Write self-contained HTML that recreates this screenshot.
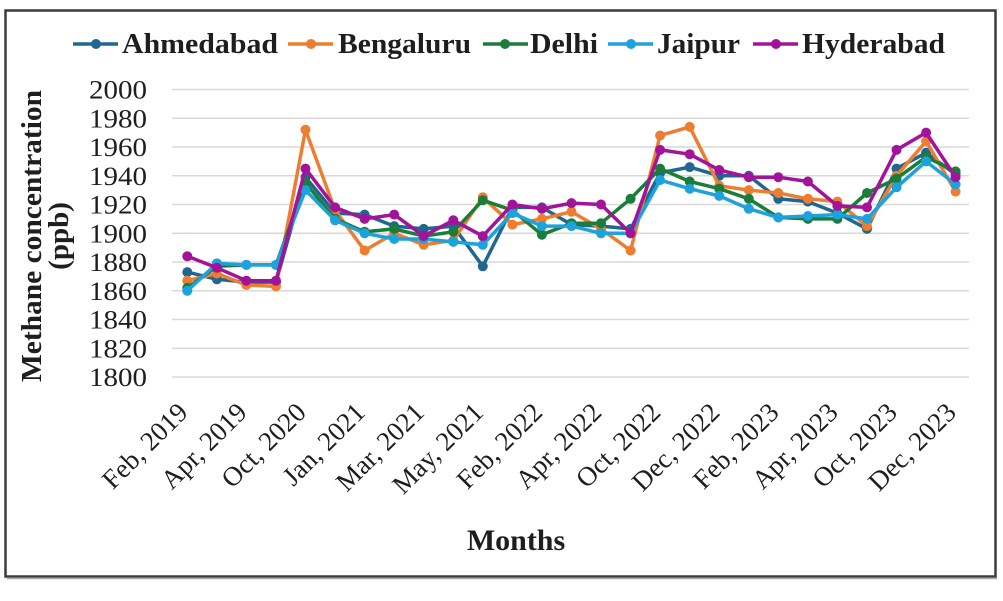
<!DOCTYPE html>
<html>
<head>
<meta charset="utf-8">
<style>
  html,body{margin:0;padding:0;background:#fff;}
  svg{display:block;}
  text{font-family:"Liberation Serif","Times New Roman",serif;fill:#1e1e1e;}
</style>
</head>
<body>
<svg width="1003" height="601" viewBox="0 0 1003 601" xmlns="http://www.w3.org/2000/svg">
  <rect x="0" y="0" width="1003" height="601" fill="#fff"/>
  <!-- outer frame -->
  <rect x="5.5" y="10.5" width="990" height="566" fill="#fff" stroke="#3c3c3c" stroke-width="2.5"/>
  <line x1="7" y1="578.5" x2="997" y2="578.5" stroke="#aaa" stroke-width="1.5"/>

  <!-- gridlines -->
  <g stroke="#d9d9d9" stroke-width="1.6">
    <line x1="172" y1="89.5" x2="969" y2="89.5"/>
    <line x1="172" y1="118.25" x2="969" y2="118.25"/>
    <line x1="172" y1="147" x2="969" y2="147"/>
    <line x1="172" y1="175.75" x2="969" y2="175.75"/>
    <line x1="172" y1="204.5" x2="969" y2="204.5"/>
    <line x1="172" y1="233.25" x2="969" y2="233.25"/>
    <line x1="172" y1="262" x2="969" y2="262"/>
    <line x1="172" y1="290.75" x2="969" y2="290.75"/>
    <line x1="172" y1="319.5" x2="969" y2="319.5"/>
    <line x1="172" y1="348.25" x2="969" y2="348.25"/>
    <line x1="172" y1="377" x2="969" y2="377"/>
  </g>

  <!-- y tick labels -->
  <g font-size="26" text-anchor="end">
    <text x="147" y="98.5" textLength="58" lengthAdjust="spacingAndGlyphs">2000</text>
    <text x="147" y="127.25" textLength="58" lengthAdjust="spacingAndGlyphs">1980</text>
    <text x="147" y="156" textLength="58" lengthAdjust="spacingAndGlyphs">1960</text>
    <text x="147" y="184.75" textLength="58" lengthAdjust="spacingAndGlyphs">1940</text>
    <text x="147" y="213.5" textLength="58" lengthAdjust="spacingAndGlyphs">1920</text>
    <text x="147" y="242.25" textLength="58" lengthAdjust="spacingAndGlyphs">1900</text>
    <text x="147" y="271" textLength="58" lengthAdjust="spacingAndGlyphs">1880</text>
    <text x="147" y="299.75" textLength="58" lengthAdjust="spacingAndGlyphs">1860</text>
    <text x="147" y="328.5" textLength="58" lengthAdjust="spacingAndGlyphs">1840</text>
    <text x="147" y="357.25" textLength="58" lengthAdjust="spacingAndGlyphs">1820</text>
    <text x="147" y="386" textLength="58" lengthAdjust="spacingAndGlyphs">1800</text>
  </g>

  <!-- y axis title -->
  <text transform="translate(41,236) rotate(-90)" text-anchor="middle" font-size="29" font-weight="bold" textLength="292" lengthAdjust="spacingAndGlyphs">Methane concentration</text>
  <text transform="translate(68,236) rotate(-90)" text-anchor="middle" font-size="29" font-weight="bold">(ppb)</text>

  <!-- x tick labels -->
  <g font-size="27" text-anchor="end">
    <text transform="translate(189.3,414) rotate(-45)">Feb, 2019</text>
    <text transform="translate(248.4,414) rotate(-45)">Apr, 2019</text>
    <text transform="translate(307.5,414) rotate(-45)">Oct, 2020</text>
    <text transform="translate(366.6,414) rotate(-45)">Jan, 2021</text>
    <text transform="translate(425.7,414) rotate(-45)">Mar, 2021</text>
    <text transform="translate(484.8,414) rotate(-45)">May, 2021</text>
    <text transform="translate(543.9,414) rotate(-45)">Feb, 2022</text>
    <text transform="translate(603,414) rotate(-45)">Apr, 2022</text>
    <text transform="translate(662.1,414) rotate(-45)">Oct, 2022</text>
    <text transform="translate(721.2,414) rotate(-45)">Dec, 2022</text>
    <text transform="translate(780.3,414) rotate(-45)">Feb, 2023</text>
    <text transform="translate(839.4,414) rotate(-45)">Apr, 2023</text>
    <text transform="translate(898.5,414) rotate(-45)">Oct, 2023</text>
    <text transform="translate(957.6,414) rotate(-45)">Dec, 2023</text>
  </g>

  <!-- x axis title -->
  <text x="516" y="550" text-anchor="middle" font-size="30" font-weight="bold">Months</text>

  <!-- Ahmedabad -->
  <g stroke="#1f6690" fill="#1f6690">
    <polyline fill="none" stroke-width="3.5" stroke-linejoin="round" points="187.3,272.1 216.9,279.3 246.4,282.1 276,282.1 305.5,177.2 335.1,213.1 364.6,214.6 394.2,226.1 423.7,228.9 453.3,226.1 482.8,266.3 512.4,207.4 541.9,207.4 571.5,224.6 601,226.1 630.6,228.9 660.1,172.9 689.7,167.1 719.2,175.8 748.8,175.8 778.3,198.8 807.9,201.6 837.4,213.1 867,228.9 896.5,168.6 926.1,152.8 955.6,174.3"/>
    <g stroke="none">
      <circle cx="187.3" cy="272.1" r="5"/><circle cx="216.9" cy="279.3" r="5"/><circle cx="246.4" cy="282.1" r="5"/><circle cx="276" cy="282.1" r="5"/><circle cx="305.5" cy="177.2" r="5"/><circle cx="335.1" cy="213.1" r="5"/><circle cx="364.6" cy="214.6" r="5"/><circle cx="394.2" cy="226.1" r="5"/><circle cx="423.7" cy="228.9" r="5"/><circle cx="453.3" cy="226.1" r="5"/><circle cx="482.8" cy="266.3" r="5"/><circle cx="512.4" cy="207.4" r="5"/><circle cx="541.9" cy="207.4" r="5"/><circle cx="571.5" cy="224.6" r="5"/><circle cx="601" cy="226.1" r="5"/><circle cx="630.6" cy="228.9" r="5"/><circle cx="660.1" cy="172.9" r="5"/><circle cx="689.7" cy="167.1" r="5"/><circle cx="719.2" cy="175.8" r="5"/><circle cx="748.8" cy="175.8" r="5"/><circle cx="778.3" cy="198.8" r="5"/><circle cx="807.9" cy="201.6" r="5"/><circle cx="837.4" cy="213.1" r="5"/><circle cx="867" cy="228.9" r="5"/><circle cx="896.5" cy="168.6" r="5"/><circle cx="926.1" cy="152.8" r="5"/><circle cx="955.6" cy="174.3" r="5"/>
    </g>
  </g>

  <!-- Bengaluru -->
  <g stroke="#ed7d31" fill="#ed7d31">
    <polyline fill="none" stroke-width="3.5" stroke-linejoin="round" points="187.3,280.7 216.9,273.5 246.4,285 276,286.4 305.5,129.8 335.1,210.3 364.6,250.5 394.2,233.3 423.7,244.8 453.3,240.4 482.8,197.3 512.4,224.6 541.9,218.9 571.5,211.7 601,228.9 630.6,250.5 660.1,135.5 689.7,126.9 719.2,185.8 748.8,190.1 778.3,193 807.9,198.8 837.4,201.6 867,226.1 896.5,175.8 926.1,141.3 955.6,191.6"/>
    <g stroke="none">
      <circle cx="187.3" cy="280.7" r="5"/><circle cx="216.9" cy="273.5" r="5"/><circle cx="246.4" cy="285" r="5"/><circle cx="276" cy="286.4" r="5"/><circle cx="305.5" cy="129.8" r="5"/><circle cx="335.1" cy="210.3" r="5"/><circle cx="364.6" cy="250.5" r="5"/><circle cx="394.2" cy="233.3" r="5"/><circle cx="423.7" cy="244.8" r="5"/><circle cx="453.3" cy="240.4" r="5"/><circle cx="482.8" cy="197.3" r="5"/><circle cx="512.4" cy="224.6" r="5"/><circle cx="541.9" cy="218.9" r="5"/><circle cx="571.5" cy="211.7" r="5"/><circle cx="601" cy="228.9" r="5"/><circle cx="630.6" cy="250.5" r="5"/><circle cx="660.1" cy="135.5" r="5"/><circle cx="689.7" cy="126.9" r="5"/><circle cx="719.2" cy="185.8" r="5"/><circle cx="748.8" cy="190.1" r="5"/><circle cx="778.3" cy="193" r="5"/><circle cx="807.9" cy="198.8" r="5"/><circle cx="837.4" cy="201.6" r="5"/><circle cx="867" cy="226.1" r="5"/><circle cx="896.5" cy="175.8" r="5"/><circle cx="926.1" cy="141.3" r="5"/><circle cx="955.6" cy="191.6" r="5"/>
    </g>
  </g>

  <!-- Delhi -->
  <g stroke="#1b7d3a" fill="#1b7d3a">
    <polyline fill="none" stroke-width="3.5" stroke-linejoin="round" points="187.3,287.9 216.9,266.3 246.4,264.9 276,264.9 305.5,182.9 335.1,218.9 364.6,231.8 394.2,228.9 423.7,236.1 453.3,231.8 482.8,200.2 512.4,210.3 541.9,234.7 571.5,223.2 601,223.2 630.6,198.8 660.1,168.6 689.7,181.5 719.2,188.7 748.8,198.8 778.3,217.4 807.9,218.9 837.4,218.9 867,193 896.5,178.6 926.1,157.1 955.6,171.4"/>
    <g stroke="none">
      <circle cx="187.3" cy="287.9" r="5"/><circle cx="216.9" cy="266.3" r="5"/><circle cx="246.4" cy="264.9" r="5"/><circle cx="276" cy="264.9" r="5"/><circle cx="305.5" cy="182.9" r="5"/><circle cx="335.1" cy="218.9" r="5"/><circle cx="364.6" cy="231.8" r="5"/><circle cx="394.2" cy="228.9" r="5"/><circle cx="423.7" cy="236.1" r="5"/><circle cx="453.3" cy="231.8" r="5"/><circle cx="482.8" cy="200.2" r="5"/><circle cx="512.4" cy="210.3" r="5"/><circle cx="541.9" cy="234.7" r="5"/><circle cx="571.5" cy="223.2" r="5"/><circle cx="601" cy="223.2" r="5"/><circle cx="630.6" cy="198.8" r="5"/><circle cx="660.1" cy="168.6" r="5"/><circle cx="689.7" cy="181.5" r="5"/><circle cx="719.2" cy="188.7" r="5"/><circle cx="748.8" cy="198.8" r="5"/><circle cx="778.3" cy="217.4" r="5"/><circle cx="807.9" cy="218.9" r="5"/><circle cx="837.4" cy="218.9" r="5"/><circle cx="867" cy="193" r="5"/><circle cx="896.5" cy="178.6" r="5"/><circle cx="926.1" cy="157.1" r="5"/><circle cx="955.6" cy="171.4" r="5"/>
    </g>
  </g>

  <!-- Jaipur -->
  <g stroke="#1ca2dc" fill="#1ca2dc">
    <polyline fill="none" stroke-width="3.5" stroke-linejoin="round" points="187.3,290.8 216.9,263.4 246.4,264.9 276,264.9 305.5,190.1 335.1,220.3 364.6,233.3 394.2,239 423.7,239 453.3,241.9 482.8,244.8 512.4,213.1 541.9,226.1 571.5,226.1 601,233.3 630.6,233.3 660.1,180.1 689.7,188.7 719.2,195.9 748.8,208.8 778.3,217.4 807.9,216 837.4,214.6 867,218.9 896.5,187.3 926.1,161.4 955.6,184.4"/>
    <g stroke="none">
      <circle cx="187.3" cy="290.8" r="5"/><circle cx="216.9" cy="263.4" r="5"/><circle cx="246.4" cy="264.9" r="5"/><circle cx="276" cy="264.9" r="5"/><circle cx="305.5" cy="190.1" r="5"/><circle cx="335.1" cy="220.3" r="5"/><circle cx="364.6" cy="233.3" r="5"/><circle cx="394.2" cy="239" r="5"/><circle cx="423.7" cy="239" r="5"/><circle cx="453.3" cy="241.9" r="5"/><circle cx="482.8" cy="244.8" r="5"/><circle cx="512.4" cy="213.1" r="5"/><circle cx="541.9" cy="226.1" r="5"/><circle cx="571.5" cy="226.1" r="5"/><circle cx="601" cy="233.3" r="5"/><circle cx="630.6" cy="233.3" r="5"/><circle cx="660.1" cy="180.1" r="5"/><circle cx="689.7" cy="188.7" r="5"/><circle cx="719.2" cy="195.9" r="5"/><circle cx="748.8" cy="208.8" r="5"/><circle cx="778.3" cy="217.4" r="5"/><circle cx="807.9" cy="216" r="5"/><circle cx="837.4" cy="214.6" r="5"/><circle cx="867" cy="218.9" r="5"/><circle cx="896.5" cy="187.3" r="5"/><circle cx="926.1" cy="161.4" r="5"/><circle cx="955.6" cy="184.4" r="5"/>
    </g>
  </g>

  <!-- Hyderabad -->
  <g stroke="#a2139a" fill="#a2139a">
    <polyline fill="none" stroke-width="3.5" stroke-linejoin="round" points="187.3,256.3 216.9,267.8 246.4,280.7 276,280.7 305.5,168.6 335.1,207.4 364.6,218.9 394.2,214.6 423.7,236.1 453.3,220.3 482.8,236.1 512.4,204.5 541.9,208.8 571.5,203.1 601,204.5 630.6,233.3 660.1,149.9 689.7,154.2 719.2,170 748.8,177.2 778.3,177.2 807.9,181.5 837.4,205.9 867,207.4 896.5,149.9 926.1,132.6 955.6,177.2"/>
    <g stroke="none">
      <circle cx="187.3" cy="256.3" r="5"/><circle cx="216.9" cy="267.8" r="5"/><circle cx="246.4" cy="280.7" r="5"/><circle cx="276" cy="280.7" r="5"/><circle cx="305.5" cy="168.6" r="5"/><circle cx="335.1" cy="207.4" r="5"/><circle cx="364.6" cy="218.9" r="5"/><circle cx="394.2" cy="214.6" r="5"/><circle cx="423.7" cy="236.1" r="5"/><circle cx="453.3" cy="220.3" r="5"/><circle cx="482.8" cy="236.1" r="5"/><circle cx="512.4" cy="204.5" r="5"/><circle cx="541.9" cy="208.8" r="5"/><circle cx="571.5" cy="203.1" r="5"/><circle cx="601" cy="204.5" r="5"/><circle cx="630.6" cy="233.3" r="5"/><circle cx="660.1" cy="149.9" r="5"/><circle cx="689.7" cy="154.2" r="5"/><circle cx="719.2" cy="170" r="5"/><circle cx="748.8" cy="177.2" r="5"/><circle cx="778.3" cy="177.2" r="5"/><circle cx="807.9" cy="181.5" r="5"/><circle cx="837.4" cy="205.9" r="5"/><circle cx="867" cy="207.4" r="5"/><circle cx="896.5" cy="149.9" r="5"/><circle cx="926.1" cy="132.6" r="5"/><circle cx="955.6" cy="177.2" r="5"/>
    </g>
  </g>

  <!-- legend -->
  <g stroke-width="3.5">
    <line x1="73" y1="44" x2="118" y2="44" stroke="#1f6690"/>
    <circle cx="96" cy="44" r="5" fill="#1f6690"/>
    <line x1="288" y1="44" x2="333" y2="44" stroke="#ed7d31"/>
    <circle cx="311" cy="44" r="5" fill="#ed7d31"/>
    <line x1="483" y1="44" x2="528" y2="44" stroke="#1b7d3a"/>
    <circle cx="505" cy="44" r="5" fill="#1b7d3a"/>
    <line x1="608" y1="44" x2="653" y2="44" stroke="#1ca2dc"/>
    <circle cx="631" cy="44" r="5" fill="#1ca2dc"/>
    <line x1="753" y1="44" x2="798" y2="44" stroke="#a2139a"/>
    <circle cx="776" cy="44" r="5" fill="#a2139a"/>
  </g>
  <g font-size="29" font-weight="bold">
    <text x="122" y="53" textLength="156" lengthAdjust="spacingAndGlyphs">Ahmedabad</text>
    <text x="338" y="53" textLength="133" lengthAdjust="spacingAndGlyphs">Bengaluru</text>
    <text x="530" y="53" textLength="68" lengthAdjust="spacingAndGlyphs">Delhi</text>
    <text x="657" y="53" textLength="83" lengthAdjust="spacingAndGlyphs">Jaipur</text>
    <text x="802" y="53" textLength="143" lengthAdjust="spacingAndGlyphs">Hyderabad</text>
  </g>
</svg>
</body>
</html>
